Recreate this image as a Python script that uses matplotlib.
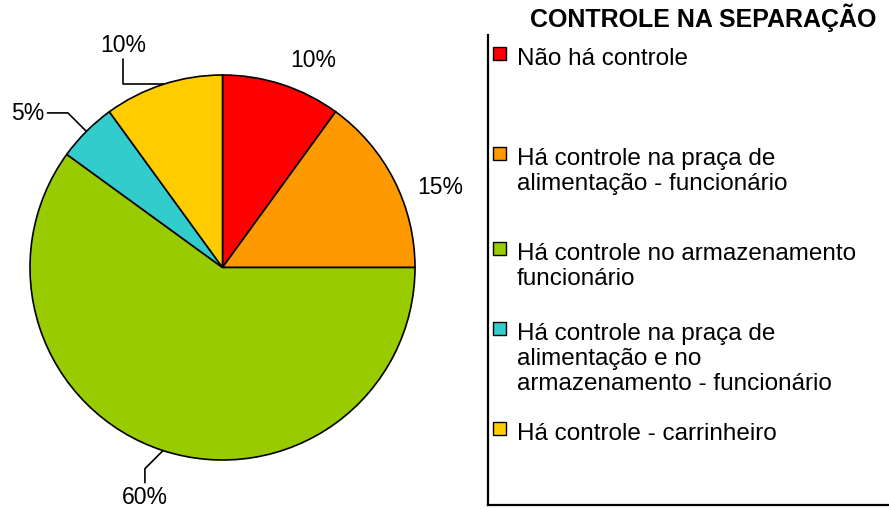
import numpy as np
import matplotlib
matplotlib.use("Agg")
import matplotlib.pyplot as plt
from matplotlib.patches import Rectangle
from matplotlib.lines import Line2D

plt.rcParams["font.family"] = ["Liberation Sans", "DejaVu Sans"]

# data
title = "CONTROLE NA SEPARAÇÃO"
categories = [
    "Não há controle",
    "Há controle na praça de\nalimentação - funcionário",
    "Há controle no armazenamento\nfuncionário",
    "Há controle na praça de\nalimentação e no\narmazenamento - funcionário",
    "Há controle - carrinheiro",
]
values = [10, 15, 60, 5, 10]
pct_labels = ["10%", "15%", "60%", "5%", "10%"]
colors = ["#FF0000", "#FF9900", "#99CC00", "#33CCCC", "#FFCC00"]

W, H = 889, 510
fig = plt.figure(figsize=(W / 100, H / 100), dpi=100)


def fx(x):
    return x / W


def fy(y):
    return 1 - y / H


# pie axes: centre (222.5, 268.5) px, radius 192.5 px
ax = fig.add_axes([fx(30), fy(461), 385 / W, 385 / H])
wedges, _ = ax.pie(values, colors=colors, startangle=90, counterclock=False,
                   radius=1.0, wedgeprops=dict(edgecolor="black", linewidth=1.2))
ax.set_xlim(-1, 1)
ax.set_ylim(-1, 1)
ax.axis("off")

# label placement (pie-radius units) and leader styles
label_pos = [(0.47, 1.083), (1.13, 0.423), (-0.403, -1.192), (-1.01, 0.803), (-0.517, 1.156)]
leaders = [None, None, "angle,angleA=90,angleB=45", "angle,angleA=0,angleB=-45",
           "angle,angleA=90,angleB=0"]

total = sum(values)
cum = np.cumsum([0] + values[:-1])
for i, v in enumerate(values):
    mid = np.deg2rad(90 - 360 * (cum[i] + v / 2) / total)
    edge = (np.cos(mid), np.sin(mid))
    if leaders[i] is None:
        ax.text(*label_pos[i], pct_labels[i], ha="center", va="center", fontsize=16.5)
    else:
        ax.annotate(pct_labels[i], xy=edge, xytext=label_pos[i], ha="center", va="center",
                    fontsize=16.5,
                    arrowprops=dict(arrowstyle="-", color="black", lw=1.2,
                                    connectionstyle=leaders[i], shrinkA=0, shrinkB=0))

# title
fig.text(fx(703), fy(18), title, ha="center", va="center", fontsize=18, fontweight="bold")

# legend frame (left and bottom edges)
fig.add_artist(Line2D([fx(488), fx(488)], [fy(36), fy(506)], color="black", lw=1.6))
fig.add_artist(Line2D([fx(488), fx(W + 5)], [fy(506), fy(506)], color="black", lw=1.6))

# legend entries
baselines = [65, 165, 260, 340, 440]
pitch = 25
for i, lab in enumerate(categories):
    b = baselines[i]
    fig.add_artist(Rectangle((fx(493), fy(b - 4)), 13 / W, 13 / H, facecolor=colors[i],
                             edgecolor="black", lw=1))
    for j, line in enumerate(lab.split("\n")):
        fig.text(fx(517), fy(b + j * pitch), line, ha="left", va="baseline", fontsize=17.5)

fig.savefig("out.png", dpi=100, facecolor="white")
